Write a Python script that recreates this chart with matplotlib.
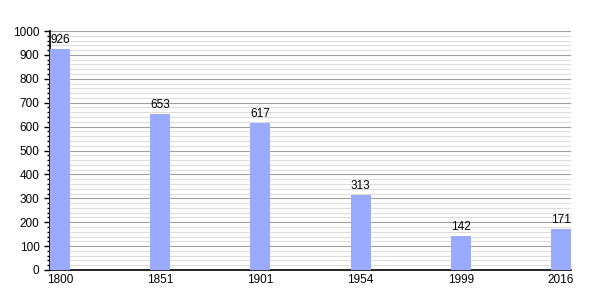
import numpy as np
import matplotlib.pyplot as plt
from matplotlib.ticker import MultipleLocator

plt.rcParams['font.family'] = ['Liberation Sans', 'DejaVu Sans']

years = ['1800', '1851', '1901', '1954', '1999', '2016']
population = [926, 653, 617, 313, 142, 171]

fig = plt.figure(figsize=(6, 3), dpi=100)
ax = fig.add_axes([50/600, 0.1, 521/600, 239/300])

x = np.arange(len(years))
ax.bar(x, population, width=0.2, color='#99aaff', zorder=3)
for xi, v in zip(x, population):
    ax.text(xi, v + 12, str(v), ha='center', va='bottom', fontsize=8.5, zorder=4)

ax.set_xlim(-0.1, 5.1)
ax.set_ylim(0, 1000)
ax.set_xticks(x)
ax.set_xticklabels(years, fontsize=8.5)
ax.yaxis.set_major_locator(MultipleLocator(100))
ax.yaxis.set_minor_locator(MultipleLocator(20))
ax.tick_params(axis='y', which='major', labelsize=8.5, length=4, width=1)
ax.tick_params(axis='y', which='minor', length=2, width=1)
ax.tick_params(axis='x', length=0, pad=3)

ax.grid(which='major', axis='y', color='#a0a0a0', linewidth=0.8, zorder=0)
ax.grid(which='minor', axis='y', color='#dddddd', linewidth=0.8, zorder=0)
for s in ['top', 'right']:
    ax.spines[s].set_visible(False)
ax.spines['left'].set_linewidth(1.2)
ax.spines['bottom'].set_linewidth(1.2)

fig.savefig('out.png', dpi=100)
